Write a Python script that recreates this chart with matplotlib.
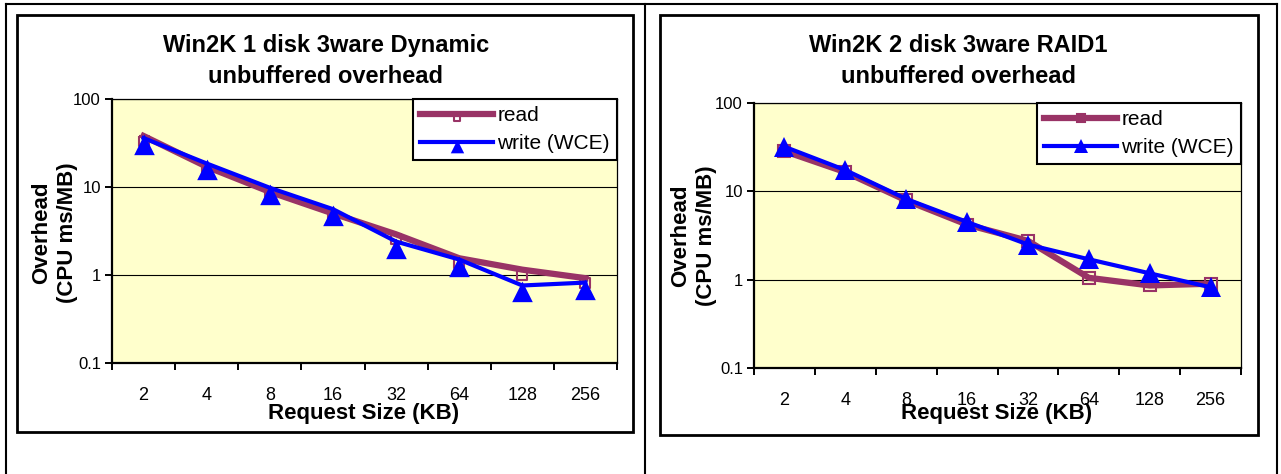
import numpy as np
import matplotlib
matplotlib.use("Agg")
import matplotlib.pyplot as plt
from matplotlib.lines import Line2D
from matplotlib.patches import Rectangle
from matplotlib.ticker import NullLocator

plt.rcParams['font.family'] = ['Liberation Sans', 'DejaVu Sans']

# request sizes (KB) on the category axis
sizes = ['2', '4', '8', '16', '32', '64', '128', '256']

# Win2K 1 disk 3ware Dynamic (CPU ms/MB)
dyn_read = [38, 17, 8.8, 5.0, 2.9, 1.55, 1.15, 0.92]
dyn_write = [36, 18.5, 9.8, 5.6, 2.4, 1.5, 0.76, 0.82]

# Win2K 2 disk 3ware RAID1 (CPU ms/MB)
raid_read = [28.5, 16.5, 7.9, 4.2, 2.75, 1.05, 0.86, 0.9]
raid_write = [32, 17.4, 8.2, 4.5, 2.5, 1.7, 1.18, 0.82]

titles = ['Win2K 1 disk 3ware Dynamic\nunbuffered overhead',
          'Win2K 2 disk 3ware RAID1\nunbuffered overhead']

READ_COLOR = '#993366'
WRITE_COLOR = '#0000FF'
PLOT_BG = '#FFFFCC'

W, H = 1281, 474
fig = plt.figure(figsize=(W / 100, H / 100), dpi=100)
fig.patch.set_facecolor('white')


def fx(px):
    return px / W


def fy(py):
    return 1 - py / H


# left chart markers hang below the data point (as in the exported picture)
tri_low = [(0, 4), (-10.5, -17), (10.5, -17), (0, 4)]
sq_low = [(-5, 0), (5, 0), (5, -10), (-5, -10), (-5, 0)]


def draw_panel(ax, read, write, read_marker, read_ms, write_marker, write_ms):
    x = np.arange(len(sizes))
    ax.set_facecolor(PLOT_BG)
    ax.plot(x, read, color=READ_COLOR, lw=4.5, marker=read_marker, ms=read_ms,
            mfc='none', mec=READ_COLOR, mew=1.5, label='read', zorder=3)
    ax.plot(x, write, color=WRITE_COLOR, lw=3, marker=write_marker, ms=write_ms,
            mfc=WRITE_COLOR, mec=WRITE_COLOR, mew=0, label='write (WCE)', zorder=4)

    ax.set_yscale('log')
    ax.set_ylim(0.1, 100)
    ax.set_yticks([0.1, 1, 10, 100], labels=['0.1', '1', '10', '100'])
    ax.yaxis.set_minor_locator(NullLocator())
    ax.grid(axis='y', color='black', lw=0.8)
    ax.set_axisbelow(True)
    ax.tick_params(axis='y', direction='out', length=5, width=1.4,
                   labelsize=12, pad=3)

    ax.set_xlim(-0.5, len(sizes) - 0.5)
    ax.set_xticks(np.arange(len(sizes) + 1) - 0.5, labels=[])
    ax.set_xticks(x, labels=sizes, minor=True)
    ax.tick_params(axis='x', which='major', direction='out', length=5, width=1.4)
    ax.tick_params(axis='x', which='minor', length=0, labelsize=13, pad=17)

    for side in ['left', 'bottom']:
        ax.spines[side].set_linewidth(1.6)
    for side in ['top', 'right']:
        ax.spines[side].set_linewidth(0.9)

    leg = ax.legend(loc='upper right', bbox_to_anchor=(1, 1), borderaxespad=0,
                    fontsize=15, handlelength=3.5, handletextpad=0.2,
                    borderpad=0.35, labelspacing=0.42, markerscale=0.65,
                    fancybox=False, framealpha=1, facecolor='white',
                    edgecolor='black')
    leg.get_frame().set_linewidth(1.5)


# plot areas (pixel boxes)
ax1 = fig.add_axes([fx(112), fy(363), fx(617) - fx(112), fy(99) - fy(363)])
ax2 = fig.add_axes([fx(754), fy(368), fx(1241) - fx(754), fy(103) - fy(368)])

draw_panel(ax1, dyn_read, dyn_write, sq_low, 14.4, tri_low, 24)
draw_panel(ax2, raid_read, raid_write, 's', 8.5, '^', 15)

# titles, axis labels
for cx, t in [(326, titles[0]), (958, titles[1])]:
    fig.text(fx(cx), fy(61), t, ha='center', va='center', fontsize=17,
             fontweight='bold', linespacing=1.42)
for cx, cy in [(364, 413), (997, 414)]:
    fig.text(fx(cx), fy(cy), 'Request Size (KB)', ha='center', va='center',
             fontsize=16, fontweight='bold')
for cx, cy in [(55, 233), (694, 236)]:
    fig.text(fx(cx), fy(cy), 'Overhead\n(CPU ms/MB)', ha='center', va='center',
             rotation=90, fontsize=16, fontweight='bold', linespacing=1.3,
             multialignment='center')

# chart frames
for x0, y0, x1, y1 in [(17, 15, 633, 432), (660, 15, 1258, 435)]:
    fig.add_artist(Rectangle((fx(x0), fy(y1)), fx(x1) - fx(x0), fy(y0) - fy(y1),
                             transform=fig.transFigure, fill=False,
                             edgecolor='black', lw=2))

# surrounding table lines
for xs, ys in [([6, 1277], [4, 4]), ([6, 6], [4, 474]), ([645, 645], [4, 474]),
               ([1277, 1277], [4, 474])]:
    fig.add_artist(Line2D([fx(v) for v in xs], [fy(v) for v in ys],
                          transform=fig.transFigure, color='black', lw=1.5))

fig.savefig('out.png', dpi=100)
